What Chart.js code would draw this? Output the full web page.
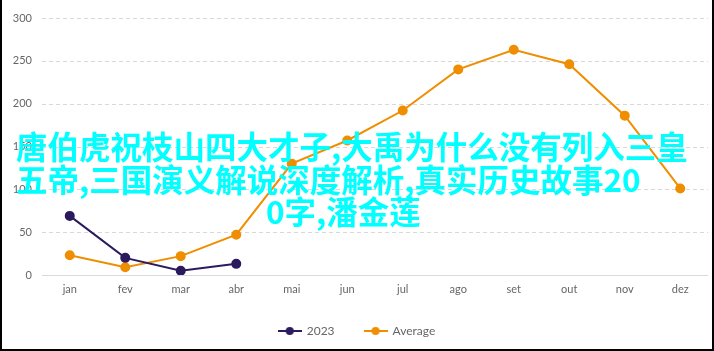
<!DOCTYPE html>
<html>
<head>
<meta charset="utf-8">
<script src="https://cdn.jsdelivr.net/npm/chart.js@4.4.1/dist/chart.umd.min.js"></script>
<style>
  html, body { margin: 0; padding: 0; background: #fff; }
  #wrap { position: relative; width: 714px; height: 351px; }
  #frame { position: absolute; left: 0; top: 0; width: 714px; height: 351px; box-sizing: border-box;
           border: 2px solid #000; border-top: none; pointer-events: none; }
  canvas { display: block; }
  .spam { position: absolute; color: #00ffff; font-family: "Noto Sans CJK SC", sans-serif;
          font-weight: 700; font-size: 31.5px; line-height: 33px; white-space: nowrap; }
</style>
</head>
<body>
<div id="wrap">
  <canvas id="chart" width="714" height="351"></canvas>
  <div class="spam" style="left:16px; top:129px;">唐伯虎祝枝山四大才子,大禹为什么没有列入三皇</div>
  <div class="spam" style="left:16px; top:162px;">五帝,三国演义解说深度解析,真实历史故事20</div>
  <div class="spam" style="left:266px; top:194px;">0字,潘金莲</div>
  <div id="frame"></div>
</div>
<script>
// months, series values
const months = ['jan', 'fev', 'mar', 'abr', 'mai', 'jun', 'jul', 'ago', 'set', 'out', 'nov', 'dez'];
const values2023 = [69, 20, 5, 13, null, null, null, null, null, null, null, null];
const valuesAverage = [23, 9, 22, 47, 130, 157, 192, 240, 263, 246, 186, 101];
const yTicks = [0, 50, 100, 150, 200, 250, 300];

const navy = '#2b1a5e';
const orange = '#ee8e00';

// legend marker: short line with a dot on it
function legendMarker(color) {
  const c = document.createElement('canvas');
  c.width = 24; c.height = 10;
  const g = c.getContext('2d');
  g.strokeStyle = color;
  g.lineWidth = 2;
  g.beginPath(); g.moveTo(0, 5); g.lineTo(24, 5); g.stroke();
  g.fillStyle = color;
  g.beginPath(); g.arc(12, 5, 4, 0, Math.PI * 2); g.fill();
  return c;
}
const markers = [legendMarker(navy), legendMarker(orange)];

const tickFont = { family: 'Lato, sans-serif', size: 11 };

// horizontal grid: dashed lines, solid line at zero
const gridLines = {
  id: 'gridLines',
  beforeDatasetsDraw(chart) {
    const { ctx, chartArea, scales } = chart;
    ctx.save();
    ctx.strokeStyle = '#d9d9d9';
    ctx.lineWidth = 1;
    yTicks.forEach(v => {
      const y = Math.round(scales.y.getPixelForValue(v)) + 0.5;
      ctx.setLineDash(v === 0 ? [] : [4, 3]);
      ctx.beginPath();
      ctx.moveTo(chartArea.left, y);
      ctx.lineTo(chartArea.right, y);
      ctx.stroke();
    });
    ctx.restore();
  }
};

new Chart(document.getElementById('chart'), {
  type: 'line',
  data: {
    labels: months,
    datasets: [
      {
        label: '2023',
        data: values2023,
        borderColor: navy,
        backgroundColor: navy,
        borderWidth: 2,
        pointRadius: 4,
        pointHoverRadius: 4,
        tension: 0
      },
      {
        label: 'Average',
        data: valuesAverage,
        borderColor: orange,
        backgroundColor: orange,
        borderWidth: 2,
        pointRadius: 4,
        pointHoverRadius: 4,
        tension: 0
      }
    ]
  },
  options: {
    responsive: false,
    animation: false,
    layout: { padding: { top: 18, right: 0, bottom: 4, left: 0 } },
    plugins: {
      tooltip: { enabled: false },
      legend: {
        position: 'bottom',
        labels: {
          usePointStyle: true,
          pointStyleWidth: 22,
          padding: 30,
          color: '#666',
          font: { family: 'Lato, sans-serif', size: 12 },
          generateLabels: function(chart) {
            return chart.data.datasets.map((ds, i) => ({
              text: ds.label,
              pointStyle: markers[i],
              fillStyle: ds.borderColor,
              strokeStyle: ds.borderColor,
              lineWidth: 0,
              fontColor: '#666',
              datasetIndex: i,
              hidden: false
            }));
          }
        }
      }
    },
    scales: {
      x: {
        offset: true,
        grid: { display: false, drawTicks: false },
        border: { display: false },
        ticks: { color: '#666', font: tickFont, padding: 8, maxRotation: 0 },
        afterFit: function(scale) { scale.height = 20; }
      },
      y: {
        min: 0,
        max: 300,
        afterBuildTicks: function(scale) { scale.ticks = yTicks.map(v => ({ value: v })); },
        grid: { display: false, drawTicks: false },
        border: { display: false },
        ticks: { color: '#666', font: tickFont, padding: 10 },
        afterFit: function(scale) { scale.width = 42; }
      }
    }
  },
  plugins: [gridLines]
});
</script>
</body>
</html>
